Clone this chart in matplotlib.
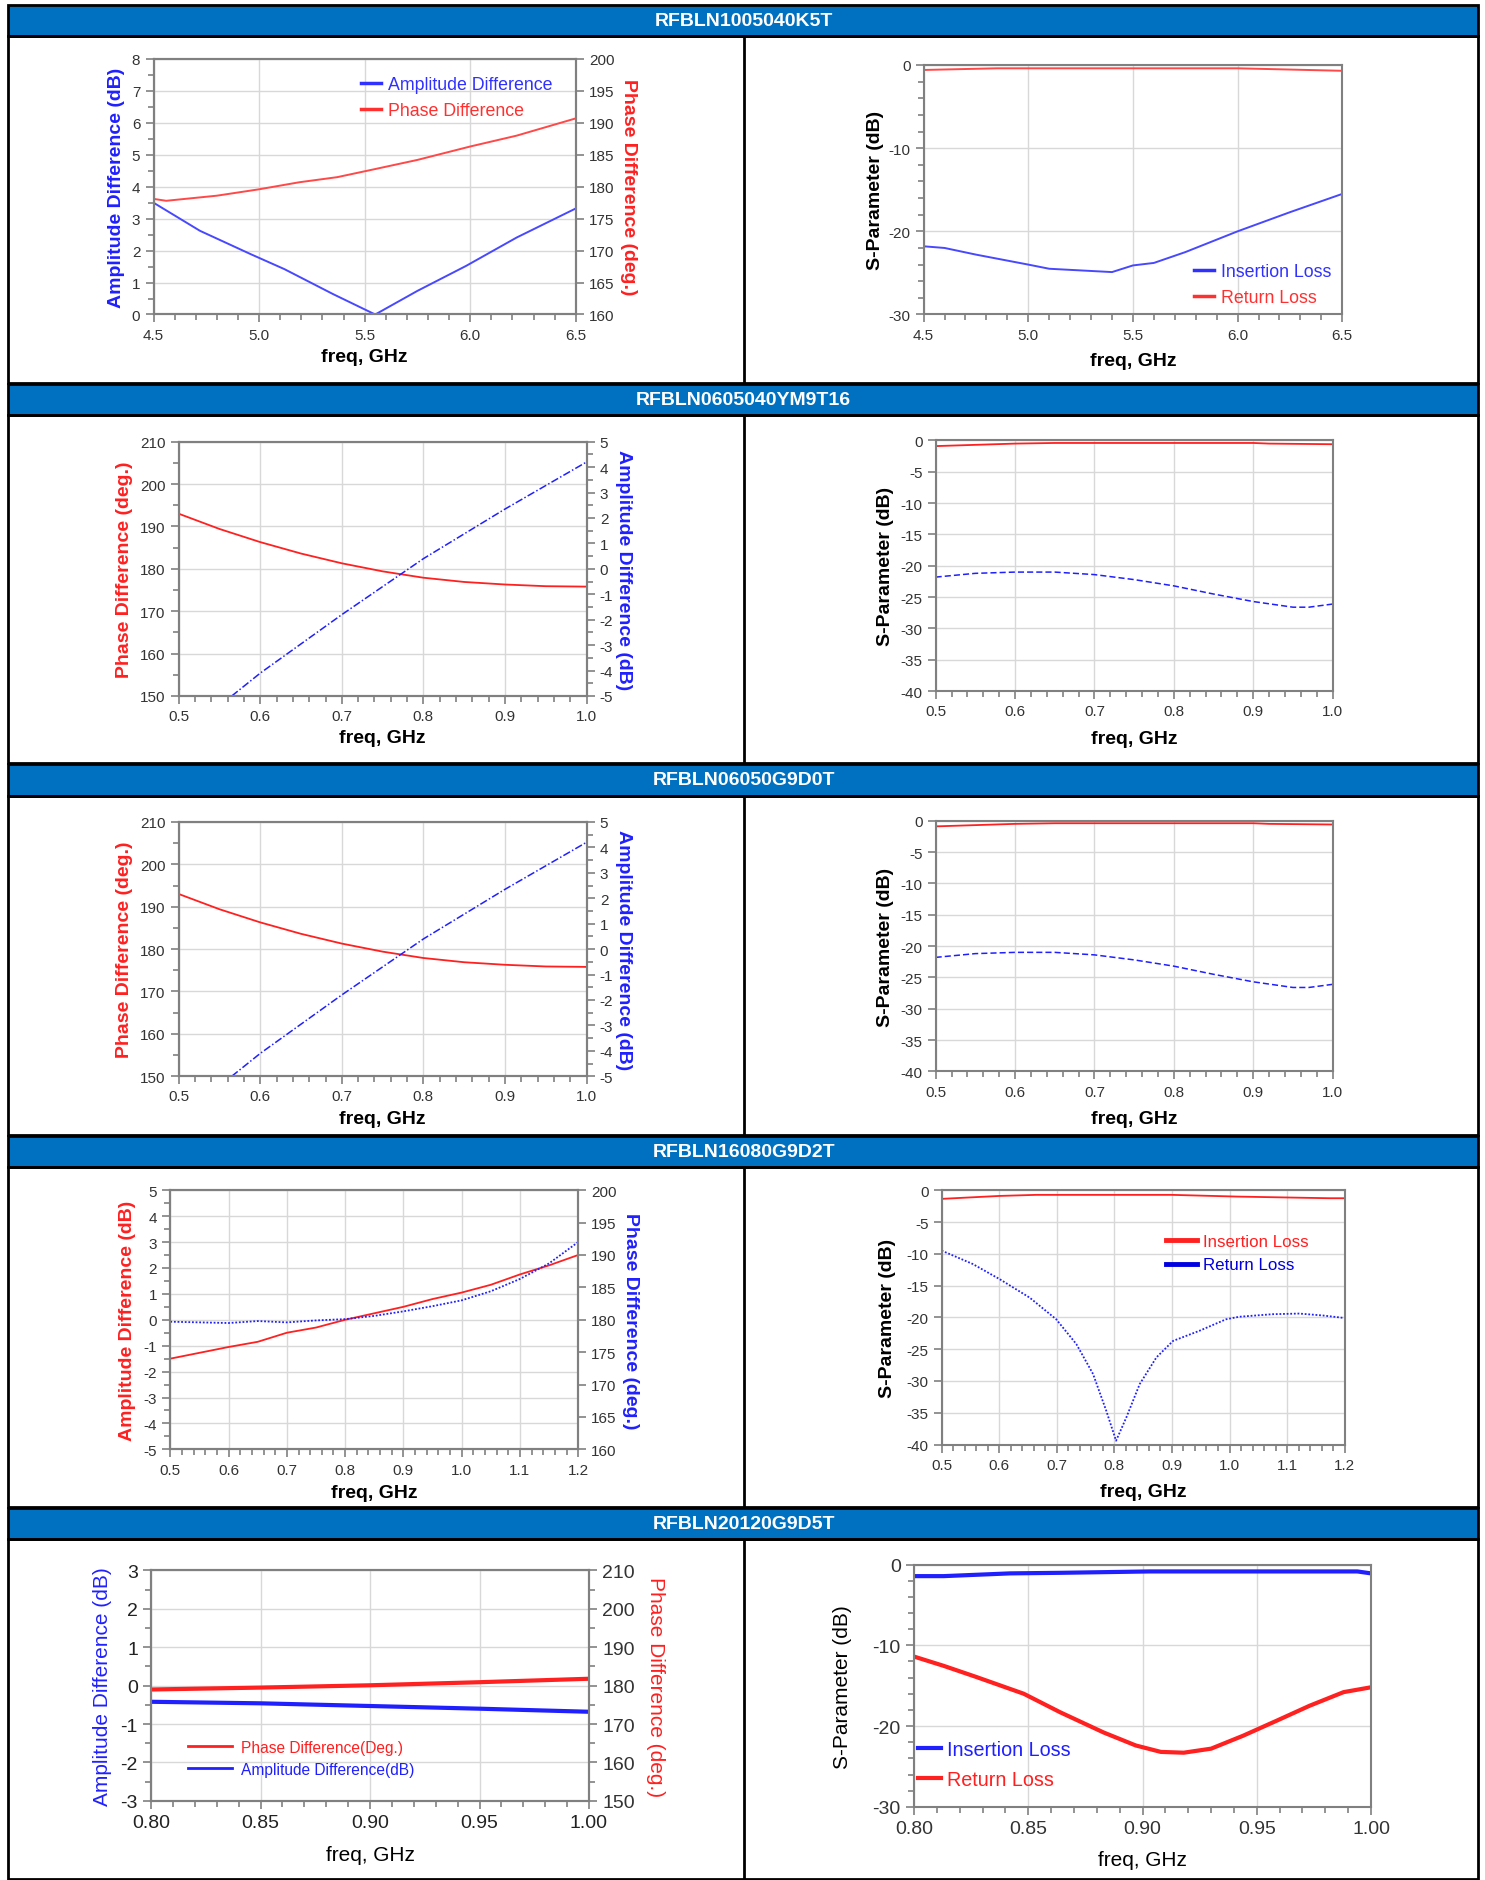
import matplotlib
matplotlib.use("Agg")
import matplotlib.pyplot as plt
from matplotlib.patches import Rectangle
from matplotlib.lines import Line2D
from matplotlib.ticker import MultipleLocator, FormatStrFormatter

plt.rcParams['font.family'] = ['Liberation Sans', 'DejaVu Sans']
plt.rcParams['axes.unicode_minus'] = False

NARROW = ['Liberation Sans Narrow', 'Liberation Sans', 'DejaVu Sans']
BLUE = '#2020ff'
RED = '#ff2020'
HEAD = '#0070c0'

titles = ['RFBLN1005040K5T', 'RFBLN0605040YM9T16', 'RFBLN06050G9D0T',
          'RFBLN16080G9D2T', 'RFBLN20120G9D5T']

# ---- RFBLN1005040K5T (4.5 - 6.5 GHz)
f1_amp = [4.5, 4.72, 4.96, 5.12, 5.35, 5.55, 5.75, 5.98, 6.22, 6.5]
amp1 = [3.5, 2.62, 1.89, 1.42, 0.64, 0.0, 0.74, 1.52, 2.41, 3.32]
f1_ph = [4.5, 4.56, 4.8, 5.0, 5.19, 5.37, 5.54, 5.75, 6.0, 6.22, 6.5]
ph1 = [178.1, 177.8, 178.6, 179.6, 180.7, 181.5, 182.7, 184.2, 186.3, 188.0, 190.7]
f1_sp = [4.5, 4.6, 4.75, 5.0, 5.1, 5.25, 5.4, 5.5, 5.6, 5.75, 6.0, 6.25, 6.5]
il1 = [-21.8, -22.0, -22.8, -24.0, -24.5, -24.7, -24.9, -24.1, -23.8, -22.5, -20.0, -17.7, -15.5]
f1_rl = [4.5, 4.85, 6.0, 6.5]
rl1 = [-0.6, -0.4, -0.4, -0.7]

# ---- RFBLN0605040YM9T16 / RFBLN06050G9D0T (0.5 - 1.0 GHz)
f2_ph = [0.5, 0.55, 0.6, 0.65, 0.7, 0.75, 0.8, 0.85, 0.9, 0.95, 1.0]
ph2 = [193.0, 189.4, 186.3, 183.6, 181.3, 179.4, 177.9, 176.9, 176.3, 175.9, 175.8]
f2_amp = [0.565, 0.6, 0.7, 0.8, 0.9, 1.0]
amp2 = [-5.0, -4.1, -1.8, 0.4, 2.35, 4.2]
f2_sp = [0.5, 0.55, 0.6, 0.65, 0.7, 0.75, 0.8, 0.85, 0.9, 0.95, 0.97, 1.0]
s2_dash = [-21.8, -21.2, -21.0, -21.0, -21.4, -22.2, -23.2, -24.5, -25.7, -26.6, -26.6, -26.1]
f2_top = [0.5, 0.6, 0.65, 0.9, 0.92, 1.0]
s2_top = [-0.9, -0.5, -0.4, -0.4, -0.5, -0.6]

# ---- RFBLN16080G9D2T (0.5 - 1.2 GHz)
f4 = [0.5, 0.6, 0.65, 0.7, 0.75, 0.8, 0.85, 0.9, 0.95, 1.0, 1.05, 1.1, 1.15, 1.2]
amp4 = [-1.5, -1.05, -0.85, -0.5, -0.3, 0.0, 0.25, 0.5, 0.8, 1.05, 1.35, 1.75, 2.1, 2.5]
ph4 = [179.7, 179.5, 179.8, 179.6, 179.9, 180.1, 180.6, 181.3, 182.1, 183.0, 184.4, 186.3, 188.7, 192.0]
f4_rl = [0.5, 0.554, 0.601, 0.653, 0.699, 0.734, 0.763, 0.786, 0.803, 0.821, 0.844, 0.873,
         0.902, 0.948, 0.994, 1.017, 1.075, 1.121, 1.162, 1.2]
rl4 = [-9.5, -11.6, -14.0, -16.9, -20.3, -24.2, -28.9, -34.7, -39.4, -35.7, -30.5, -26.3,
       -23.7, -22.1, -20.3, -19.9, -19.5, -19.4, -19.7, -20.1]
f4_il = [0.5, 0.6, 0.664, 0.9, 1.013, 1.105, 1.174, 1.2]
il4 = [-1.36, -0.9, -0.73, -0.73, -1.0, -1.15, -1.26, -1.26]

# ---- RFBLN20120G9D5T (0.80 - 1.00 GHz)
f5 = [0.8, 0.85, 0.9, 0.95, 1.0]
ph5 = [179.0, 179.5, 180.1, 180.9, 181.8]
amp5 = [-0.42, -0.46, -0.53, -0.6, -0.68]
f5_rl = [0.8, 0.813, 0.827, 0.848, 0.864, 0.883, 0.897, 0.908, 0.918, 0.93, 0.944,
         0.959, 0.973, 0.988, 1.0]
rl5 = [-11.4, -12.55, -13.9, -16.0, -18.3, -20.8, -22.4, -23.2, -23.3, -22.8, -21.2,
       -19.3, -17.5, -15.8, -15.2]
f5_il = [0.8, 0.813, 0.842, 0.864, 0.903, 0.994, 1.0]
il5 = [-1.44, -1.44, -1.1, -1.03, -0.86, -0.86, -1.1]

W, H = 1238.0, 1568.0
fig = plt.figure(figsize=(14.85, 18.81), dpi=100)


def box(x0, x1, y0, y1):
    return [x0 / W, 1 - y1 / H, (x1 - x0) / W, (y1 - y0) / H]


# page frame: blue title bands and bordered panels
head_top = [5, 321, 638, 948, 1258]
row_bot = [320, 637, 947, 1257, 1567]
for t, y0, y1 in zip(titles, head_top, row_bot):
    fig.add_artist(Rectangle((7 / W, 1 - (y0 + 26) / H), 1225 / W, 26 / H, transform=fig.transFigure,
                             facecolor=HEAD, edgecolor='black', lw=2))
    fig.text(620 / W, 1 - (y0 + 13) / H, t, color='white', fontsize=14, fontweight='bold',
             ha='center', va='center')
    fig.add_artist(Rectangle((7 / W, 1 - y1 / H), 1225 / W, (y1 - y0 - 26) / H, transform=fig.transFigure,
                             fill=False, edgecolor='black', lw=2))
    fig.add_artist(Line2D([620 / W, 620 / W], [1 - y1 / H, 1 - (y0 + 26) / H], transform=fig.transFigure,
                          color='black', lw=2))


def style(ax, xlim, xmaj, xmin, xfmt, ylim, ymaj, ymin, fs=11, font=NARROW, grid=True):
    ax.set_xlim(xlim)
    ax.set_ylim(ylim)
    ax.xaxis.set_major_locator(MultipleLocator(xmaj))
    ax.xaxis.set_minor_locator(MultipleLocator(xmin))
    ax.xaxis.set_major_formatter(FormatStrFormatter(xfmt))
    ax.yaxis.set_major_locator(MultipleLocator(ymaj))
    if ymin:
        ax.yaxis.set_minor_locator(MultipleLocator(ymin))
    ax.yaxis.set_major_formatter(FormatStrFormatter('%d'))
    ax.tick_params(which='both', direction='out', color='#808080', width=1.2, labelcolor='#333333')
    ax.tick_params(which='major', length=6)
    ax.tick_params(which='minor', length=4)
    for lab in ax.get_xticklabels() + ax.get_yticklabels():
        lab.set_fontfamily(font)
        lab.set_fontsize(fs)
    for s in ax.spines.values():
        s.set_color('#808080')
        s.set_linewidth(1.5)
    if grid:
        ax.grid(True, which='major', color='#d8d8d8', lw=1)
        ax.set_axisbelow(True)


def left_label(ax, txt, color, x, fs=14, weight='bold'):
    ax.set_ylabel(txt, color=color, fontsize=fs, fontweight=weight, va='center')
    ax.yaxis.set_label_coords(x, 0.5)


def right_label(ax, txt, color, x, fs=14, weight='bold'):
    ax.set_ylabel(txt, color=color, fontsize=fs, fontweight=weight, rotation=270, va='center', ha='center')
    ax.yaxis.set_label_coords(x, 0.5)


def freq_label(ax, y, fs=14, weight='bold'):
    ax.set_xlabel('freq, GHz', fontsize=fs, fontweight=weight, va='center')
    ax.xaxis.set_label_coords(0.5, y)


def leg(ax, handles, anchor, fs, hl=1.2, pad=0.4, sp=0.3):
    return ax.legend(handles=handles, loc='upper left', bbox_to_anchor=anchor, frameon=False,
                     borderpad=0, borderaxespad=0, handlelength=hl, handletextpad=pad,
                     labelspacing=sp, prop={'family': NARROW, 'size': fs}, labelcolor='linecolor')


# ---------------- row 1
ax = fig.add_axes(box(128, 480, 50, 263))
ax2 = ax.twinx()
ax.plot(f1_amp, amp1, color='#4848ff', lw=1.4)
ax2.plot(f1_ph, ph1, color='#ff4848', lw=1.4)
style(ax, (4.5, 6.5), 0.5, 0.1, '%.1f', (0, 8), 1, 0.5)
style(ax2, (4.5, 6.5), 0.5, 0.1, '%.1f', (160, 200), 5, None, grid=False)
left_label(ax, 'Amplitude Difference (dB)', BLUE, -0.088)
right_label(ax2, 'Phase Difference (deg.)', RED, 1.125)
freq_label(ax, -0.164)
leg(ax2, [Line2D([], [], color='#3030ff', lw=2.5, label='Amplitude Difference'),
          Line2D([], [], color='#ff3030', lw=2.5, label='Phase Difference')], (0.491, 0.934), 12.8,
    hl=1.15, sp=0.5)

ax = fig.add_axes(box(770, 1119, 55, 263))
ax.plot(f1_rl, rl1, color='#ff4848', lw=1.4)
ax.plot(f1_sp, il1, color='#4848ff', lw=1.4)
style(ax, (4.5, 6.5), 0.5, 0.1, '%.1f', (-30, 0), 10, 2)
left_label(ax, 'S-Parameter (dB)', 'black', -0.115)
freq_label(ax, -0.183)
leg(ax, [Line2D([], [], color='#3030ff', lw=2.5, label='Insertion Loss'),
         Line2D([], [], color='#ff3030', lw=2.5, label='Return Loss')], (0.645, 0.207), 12.75,
    hl=1.15, sp=0.5)

# ---------------- rows 2 and 3 (same response)
for top in (369, 686):
    ax = fig.add_axes(box(149, 489, top, top + 212))
    ax2 = ax.twinx()
    ax.plot(f2_ph, ph2, color=RED, lw=1.3)
    ax2.plot(f2_amp, amp2, color=BLUE, lw=1.1, ls=(0, (5, 1.5, 1, 1.5)))
    style(ax, (0.5, 1.0), 0.1, 0.02, '%.1f', (150, 210), 10, 5)
    style(ax2, (0.5, 1.0), 0.1, 0.02, '%.1f', (-5, 5), 1, 0.5, grid=False)
    left_label(ax, 'Phase Difference (deg.)', RED, -0.132)
    right_label(ax2, 'Amplitude Difference (dB)', BLUE, 1.091)
    freq_label(ax, -0.165)

    ax = fig.add_axes(box(780, 1111, top - 1, top + 208))
    ax.plot(f2_top, s2_top, color=RED, lw=1.3)
    ax.plot(f2_sp, s2_dash, color=BLUE, lw=1.1, ls=(0, (4, 2)))
    style(ax, (0.5, 1.0), 0.1, 0.02, '%.1f', (-40, 0), 5, None)
    left_label(ax, 'S-Parameter (dB)', 'black', -0.127)
    freq_label(ax, -0.187)

# ---------------- row 4
ax = fig.add_axes(box(142, 482, 993, 1209))
ax2 = ax.twinx()
ax.plot(f4, amp4, color=RED, lw=1.3)
ax2.plot(f4, ph4, color=BLUE, lw=1.3, ls=(0, (1, 1)))
style(ax, (0.5, 1.2), 0.1, 0.02, '%.1f', (-5, 5), 1, 0.5)
style(ax2, (0.5, 1.2), 0.1, 0.02, '%.1f', (160, 200), 5, None, grid=False)
left_label(ax, 'Amplitude Difference (dB)', RED, -0.106)
right_label(ax2, 'Phase Difference (deg.)', BLUE, 1.129)
freq_label(ax, -0.167)

ax = fig.add_axes(box(785, 1121, 993, 1205))
ax.plot(f4_il, il4, color=RED, lw=1.3)
ax.plot(f4_rl, rl4, color=BLUE, lw=1.3, ls=(0, (1, 1)))
style(ax, (0.5, 1.2), 0.1, 0.02, '%.1f', (-40, 0), 5, None)
left_label(ax, 'S-Parameter (dB)', 'black', -0.134)
freq_label(ax, -0.184)
leg(ax, [Line2D([], [], color=RED, lw=3.5, label='Insertion Loss'),
         Line2D([], [], color='#0000e0', lw=3.5, label='Return Loss')], (0.557, 0.828), 12.2,
    hl=1.8, sp=0.5)

# ---------------- row 5
ax = fig.add_axes(box(126, 491, 1310, 1502))
ax2 = ax.twinx()
ax.plot(f5, amp5, color=BLUE, lw=3)
ax2.plot(f5, ph5, color=RED, lw=3)
style(ax, (0.8, 1.0), 0.05, 0.01, '%.2f', (-3, 3), 1, 0.5, fs=14, font='Liberation Sans')
style(ax2, (0.8, 1.0), 0.05, 0.01, '%.2f', (150, 210), 10, 5, fs=14, font='Liberation Sans', grid=False)
ax.tick_params(labelcolor='#222222')
left_label(ax, 'Amplitude Difference (dB)', BLUE, -0.11, fs=15, weight='normal')
right_label(ax2, 'Phase Difference (deg.)', RED, 1.151, fs=15, weight='normal')
freq_label(ax, -0.234, fs=15, weight='normal')
leg(ax2, [Line2D([], [], color=RED, lw=2, label='Phase Difference(Deg.)'),
          Line2D([], [], color=BLUE, lw=2, label='Amplitude Difference(dB)')], (0.085, 0.266), 11.2,
    hl=2.8, pad=0.6, sp=0.45)

ax = fig.add_axes(box(762, 1143, 1305, 1507))
ax.plot(f5_il, il5, color=BLUE, lw=3)
ax.plot(f5_rl, rl5, color=RED, lw=3)
style(ax, (0.8, 1.0), 0.05, 0.01, '%.2f', (-30, 0), 10, 2, fs=14, font='Liberation Sans')
left_label(ax, 'S-Parameter (dB)', 'black', -0.157, fs=15, weight='normal')
freq_label(ax, -0.218, fs=15, weight='normal')
leg(ax, [Line2D([], [], color=BLUE, lw=3, label='Insertion Loss'),
         Line2D([], [], color=RED, lw=3, label='Return Loss')], (0.008, 0.275), 14.2,
    hl=1.2, pad=0.3, sp=0.55)

fig.savefig('out.png', dpi=100, facecolor='white')
